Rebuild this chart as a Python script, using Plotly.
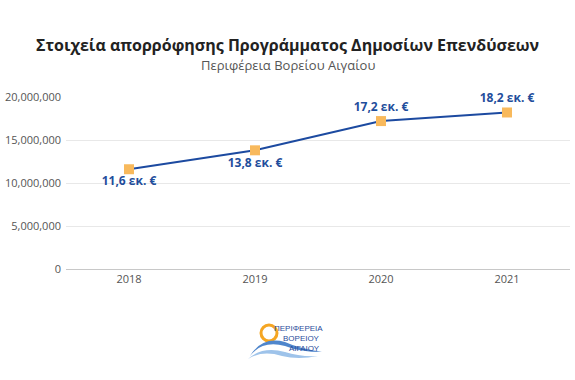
import plotly.graph_objects as go

years = ["2018", "2019", "2020", "2021"]
values = [11600000, 13800000, 17200000, 18200000]
labels = ["11,6 εκ. €", "13,8 εκ. €", "17,2 εκ. €", "18,2 εκ. €"]
positions = ["bottom center", "bottom center", "top center", "top center"]
y_ticks = [0, 5000000, 10000000, 15000000, 20000000]
y_tick_text = ["0", "5,000,000", "10,000,000", "15,000,000", "20,000,000"]

L, R, T, B = 66, 570, 97, 269
W, H = 575, 380

fig = go.Figure()
fig.add_trace(go.Scatter(
    x=years, y=values, mode="lines+markers+text",
    line=dict(color="#1c4aa0", width=2),
    marker=dict(symbol="square", size=10, color="#f8b95c"),
    text=labels, textposition=positions,
    textfont=dict(family="Open Sans", size=12, color="#1f4e9c", weight="bold"),
    cliponaxis=False, hoverinfo="skip", showlegend=False,
))

fig.update_layout(
    width=W, height=H,
    margin=dict(l=L, r=W - R, t=T, b=H - B, autoexpand=False),
    paper_bgcolor="white", plot_bgcolor="white",
    font=dict(family="Open Sans", color="#555555", size=11),
    xaxis=dict(type="category", range=[-0.5, 3.5], showgrid=False, showline=True,
               linecolor="#c8c8c8", linewidth=1, ticks="",
               tickfont=dict(size=11, color="#555555")),
    yaxis=dict(range=[0, 20000000], tickvals=y_ticks, ticktext=y_tick_text,
               showgrid=True, gridcolor="#e8e8e8", gridwidth=1, zeroline=False,
               showline=False, ticks="", ticklabelstandoff=4,
               tickfont=dict(size=11, color="#555555")),
)


def px(xp):
    return (xp - L) / (R - L)


def py(yp):
    return (B - yp) / (B - T)


fig.add_annotation(text="<b>Στοιχεία απορρόφησης Προγράμματος Δημοσίων Επενδύσεων</b>",
                   xref="paper", yref="paper", x=px(287.5), y=py(45),
                   xanchor="center", yanchor="middle",
                   showarrow=False, font=dict(family="Open Sans", size=16, color="#222222"))
fig.add_annotation(text="Περιφέρεια Βορείου Αιγαίου",
                   xref="paper", yref="paper", x=px(287.5), y=py(65),
                   xanchor="center", yanchor="middle",
                   showarrow=False, font=dict(family="Open Sans", size=13, color="#555555"))

# Logo approximation
fig.add_shape(type="circle", xref="paper", yref="paper",
              x0=px(261), x1=px(277), y0=py(341), y1=py(325),
              line=dict(color="#f5a623", width=3))
fig.add_shape(type="path", xref="paper", yref="paper",
              path=f"M {px(250)},{py(356)} Q {px(262)},{py(340)} {px(285)},{py(346)} Q {px(300)},{py(352)} {px(322)},{py(352)} Q {px(298)},{py(348)} {px(285)},{py(342)} Q {px(262)},{py(336)} {px(250)},{py(356)} Z",
              fillcolor="#4f86cc", line=dict(width=0))
fig.add_shape(type="path", xref="paper", yref="paper",
              path=f"M {px(248)},{py(359)} Q {px(262)},{py(346)} {px(285)},{py(352)} Q {px(300)},{py(357)} {px(318)},{py(356)} Q {px(298)},{py(360)} {px(282)},{py(356)} Q {px(262)},{py(350)} {px(248)},{py(359)} Z",
              fillcolor="#9ec3ea", line=dict(width=0))
for t, yy, xx in [("ΠΕΡΙΦΕΡΕΙΑ", 328, 298), ("ΒΟΡΕΙΟΥ", 338, 301), ("ΑΙΓΑΙΟΥ", 348, 304)]:
    fig.add_annotation(text=t, xref="paper", yref="paper", x=px(xx), y=py(yy),
                       xanchor="center", yanchor="middle",
                       showarrow=False, font=dict(family="Liberation Sans", size=8, color="#2b4c9b"))

fig.write_html("out.html", config={"displayModeBar": False},
               post_script="document.body.style.margin='0';")
